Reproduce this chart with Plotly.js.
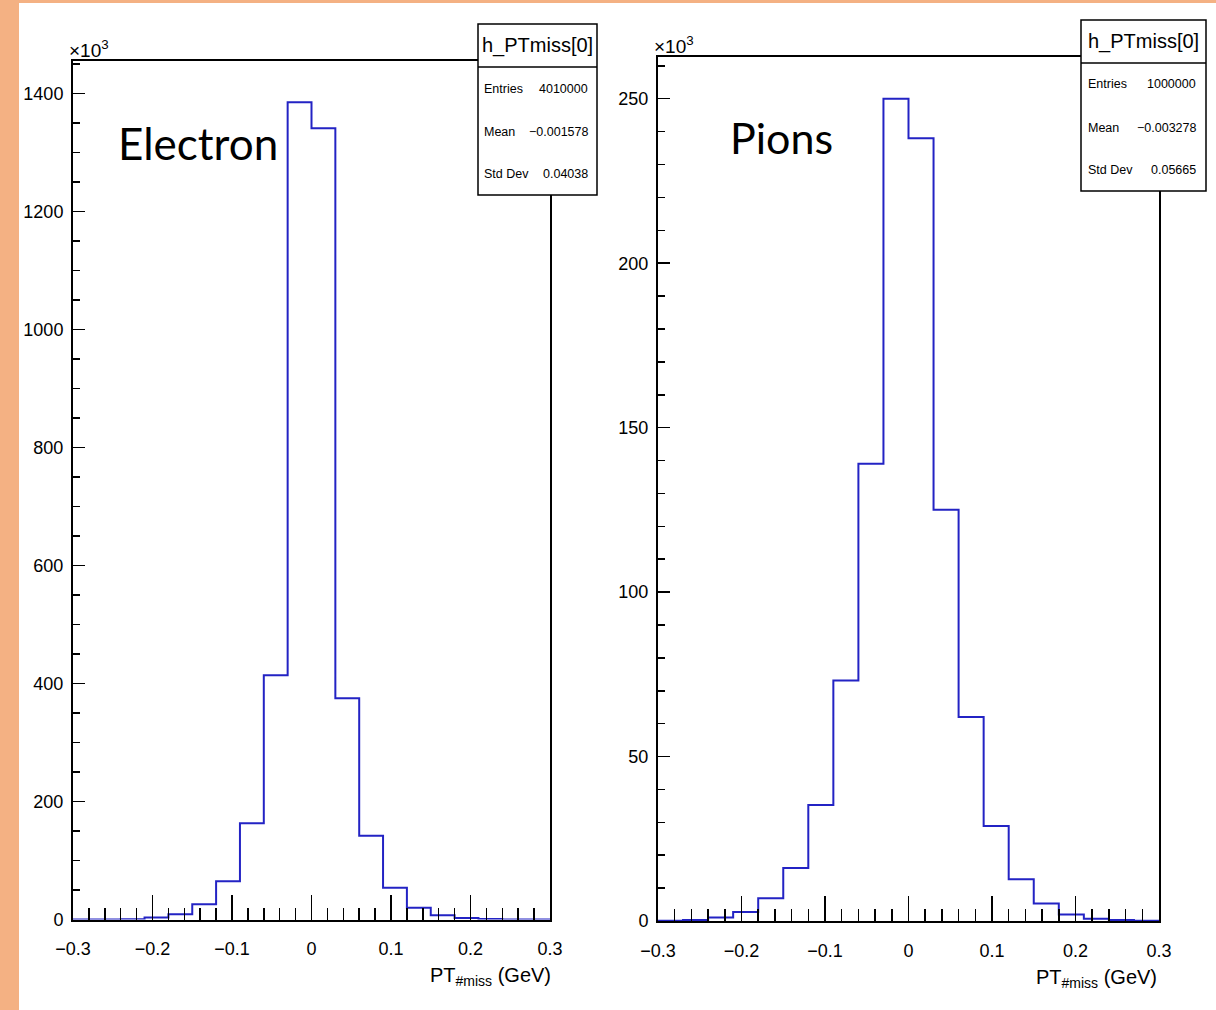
<!DOCTYPE html>
<html>
<head>
<meta charset="utf-8">
<script src="https://cdn.plot.ly/plotly-3.0.1.min.js"></script>
<style>html,body{margin:0;padding:0;background:#fff;}#chart{width:1216px;height:1010px;}</style>
</head>
<body>
<div id="chart"></div>
<script>
// ---- data (counts in units of 10^3) ----
const binLowEdges = [-0.30,-0.27,-0.24,-0.21,-0.18,-0.15,-0.12,-0.09,-0.06,-0.03,0.00,0.03,0.06,0.09,0.12,0.15,0.18,0.21,0.24,0.27];
const binUpperEdge = 0.30;
const electronCounts = [0.0,0.1,0.6,3.5,9,26,65,163,414,1385,1341,375,142,54,20,7,2.7,0.8,0.2,0.05];
const pionCounts = [0.05,0.3,1.1,2.7,6.9,16.1,35.3,73.1,139,250,238,125,62,28.9,12.7,5.3,2.0,0.7,0.3,0.05];
const xTicks = [-0.3,-0.2,-0.1,0,0.1,0.2,0.3];
const xTickText = ["\u22120.3","\u22120.2","\u22120.1","0","0.1","0.2","0.3"];
const statsTitle = "h_PTmiss[0]";
const statsLabels = ["Entries","Mean","Std Dev"];
const electronStats = ["4010000","\u22120.001578","0.04038"];
const pionStats = ["1000000","\u22120.003278","0.05665"];
const panelLabels = ["Electron","Pions"];
const xTitle = "PT<sub>#miss</sub> (GeV)";

// ---- helpers ----
const W = 1216, H = 1010;
const px = x => x / W;
const py = y => 1 - y / H;
function steps(edges, upper, counts) {
  const xs = edges.slice(); xs.push(upper);
  const ys = counts.slice(); ys.push(counts[counts.length - 1]);
  return {xs, ys};
}
const AX = "Liberation Sans, Arial, Helvetica, sans-serif";
const lineBlue = "#2323c4";

const e = steps(binLowEdges, binUpperEdge, electronCounts);
const p = steps(binLowEdges, binUpperEdge, pionCounts);

const traces = [
  {x: e.xs, y: e.ys, type: "scatter", mode: "lines", line: {shape: "hv", color: lineBlue, width: 2}, xaxis: "x", yaxis: "y", hoverinfo: "skip"},
  {x: p.xs, y: p.ys, type: "scatter", mode: "lines", line: {shape: "hv", color: lineBlue, width: 2}, xaxis: "x2", yaxis: "y2", hoverinfo: "skip"}
];

function xAxis(dom, anchor) {
  return {domain: dom, anchor: anchor, range: [-0.3, 0.3], showgrid: false, zeroline: false,
    showline: true, linecolor: "#000", linewidth: 2, mirror: true,
    tickmode: "array", tickvals: xTicks, ticktext: xTickText,
    ticks: "inside", ticklen: 25, tickwidth: 1.5, tickcolor: "#000",
    minor: {dtick: 0.02, tick0: 0, ticks: "inside", ticklen: 12, tickwidth: 1.5, tickcolor: "#000", showgrid: false},
    tickfont: {family: AX, size: 18, color: "#000"}, ticklabelstandoff: 12, fixedrange: true};
}
function yAxis(dom, anchor, rng, dt, mdt) {
  return {domain: dom, anchor: anchor, range: rng, showgrid: false, zeroline: false,
    showline: true, linecolor: "#000", linewidth: 2, mirror: true,
    dtick: dt, tick0: 0, ticks: "inside", ticklen: 12, tickwidth: 1.5, tickcolor: "#000",
    minor: {dtick: mdt, tick0: 0, ticks: "inside", ticklen: 7, tickwidth: 1.5, tickcolor: "#000", showgrid: false},
    tickfont: {family: AX, size: 18, color: "#000"}, ticklabelstandoff: 4, fixedrange: true};
}

const shapes = [
  {type: "rect", xref: "paper", yref: "paper", x0: 0, x1: px(19), y0: 0, y1: 1, fillcolor: "#F4B183", line: {width: 0}, layer: "above"},
  {type: "rect", xref: "paper", yref: "paper", x0: 0, x1: 1, y0: py(3), y1: 1, fillcolor: "#F4B183", line: {width: 0}, layer: "above"}
];
const annotations = [];

function statsBox(x0, x1, y0, y1, ySep, rows, labX, valX, title, vals) {
  shapes.push({type: "rect", xref: "paper", yref: "paper", x0: px(x0), x1: px(x1), y0: py(y1), y1: py(y0), fillcolor: "#fff", line: {color: "#000", width: 1.5}, layer: "above"});
  shapes.push({type: "line", xref: "paper", yref: "paper", x0: px(x0), x1: px(x1), y0: py(ySep), y1: py(ySep), line: {color: "#000", width: 1.5}, layer: "above"});
  annotations.push({xref: "paper", yref: "paper", x: px((x0 + x1) / 2), y: py((y0 + ySep) / 2), text: title, showarrow: false, xanchor: "center", yanchor: "middle", font: {family: AX, size: 20, color: "#000"}});
  for (let i = 0; i < statsLabels.length; i++) {
    annotations.push({xref: "paper", yref: "paper", x: px(labX), y: py(rows[i]), text: statsLabels[i], showarrow: false, xanchor: "left", yanchor: "middle", font: {family: AX, size: 12.5, color: "#000"}});
    annotations.push({xref: "paper", yref: "paper", x: px(valX), y: py(rows[i]), text: vals[i], showarrow: false, xanchor: "right", yanchor: "middle", font: {family: AX, size: 12.5, color: "#000"}});
  }
}
statsBox(478, 597, 24, 195, 67, [89, 132, 174], 482, 590, statsTitle, electronStats);
statsBox(1081, 1206, 20, 191, 63, [84, 128, 170], 1086, 1198, statsTitle, pionStats);

// exponent labels
annotations.push({xref: "paper", yref: "paper", x: px(67), y: py(49), text: "\u00d710<sup>3</sup>", showarrow: false, xanchor: "left", yanchor: "middle", font: {family: AX, size: 19, color: "#000"}});
annotations.push({xref: "paper", yref: "paper", x: px(652), y: py(45), text: "\u00d710<sup>3</sup>", showarrow: false, xanchor: "left", yanchor: "middle", font: {family: AX, size: 19, color: "#000"}});
// axis titles
annotations.push({xref: "paper", yref: "paper", x: px(553), y: py(976), text: xTitle, showarrow: false, xanchor: "right", yanchor: "middle", font: {family: AX, size: 20, color: "#000"}});
annotations.push({xref: "paper", yref: "paper", x: px(1159), y: py(978), text: xTitle, showarrow: false, xanchor: "right", yanchor: "middle", font: {family: AX, size: 20, color: "#000"}});
// panel labels
annotations.push({xref: "paper", yref: "paper", x: px(198), y: py(143), text: panelLabels[0], showarrow: false, xanchor: "center", yanchor: "middle", font: {family: "Lato, Open Sans, sans-serif", size: 44, color: "#000"}});
annotations.push({xref: "paper", yref: "paper", x: px(781), y: py(137), text: panelLabels[1], showarrow: false, xanchor: "center", yanchor: "middle", font: {family: "Lato, Open Sans, sans-serif", size: 43, color: "#000"}});

const layout = {
  width: W, height: H, margin: {l: 0, r: 0, t: 0, b: 0}, showlegend: false,
  paper_bgcolor: "#fff", plot_bgcolor: "#fff",
  xaxis: xAxis([px(73), px(550)], "y"),
  yaxis: yAxis([py(919.5), py(61)], "x", [0, 1455], 200, 50),
  xaxis2: xAxis([px(658), px(1159)], "y2"),
  yaxis2: yAxis([py(921), py(57.3)], "x2", [0, 262.6], 50, 10),
  shapes: shapes, annotations: annotations
};
Plotly.newPlot("chart", traces, layout, {staticPlot: true, displayModeBar: false});
</script>
</body>
</html>
